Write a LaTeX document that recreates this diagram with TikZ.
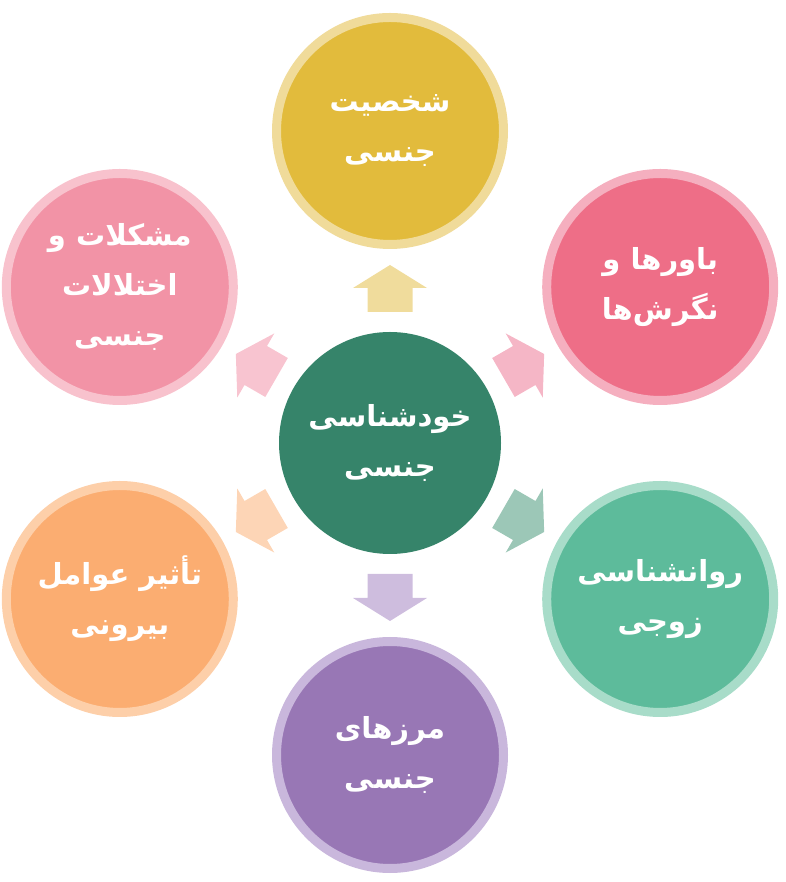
\documentclass[tikz,border=0pt]{standalone}
\usepackage{fontspec}
\newfontfamily\arabicfont[Script=Arabic]{DejaVu Sans}
\TeXXeTstate=1
\usetikzlibrary{calc}

\definecolor{coregreen}{HTML}{36846A}
\definecolor{goldfill}{HTML}{E2BB3C}
\definecolor{goldring}{HTML}{F0DB9A}
\definecolor{rosefill}{HTML}{EE6E87}
\definecolor{rosering}{HTML}{F5AFBF}
\definecolor{pinkfill}{HTML}{F293A6}
\definecolor{pinkring}{HTML}{F8C2CD}
\definecolor{mintfill}{HTML}{5DBB9B}
\definecolor{mintring}{HTML}{A8DCC9}
\definecolor{peachfill}{HTML}{FBAD71}
\definecolor{peachring}{HTML}{FDCFA9}
\definecolor{lilacfill}{HTML}{9877B5}
\definecolor{lilacring}{HTML}{C9B7DC}
\definecolor{goldarrow}{HTML}{F0DC9C}
\definecolor{rosearrow}{HTML}{F5B6C6}
\definecolor{pinkarrow}{HTML}{F8C4D0}
\definecolor{mintarrow}{HTML}{9CC7B7}
\definecolor{peacharrow}{HTML}{FDD5B6}
\definecolor{lilacarrow}{HTML}{CEBDDE}

\tikzset{
  bubble/.style={circle, minimum size=227pt, line width=9pt, inner sep=0pt,
    text=white, align=center, font=\arabicfont\bfseries\fontsize{29}{50}\selectfont}
}
\newcommand{\rtl}[1]{\beginR #1\endR}
\newcommand{\bubble}[5]{\node[bubble, fill=#3, draw=#4] (#1) at ($(core)+(#2:312pt)$) {#5};}
\newcommand{\blockarrow}[2]{\fill[#2, shift={(core)}, rotate=#1] (131,-22.5) -- (155,-22.5) -- (155,-37) -- (178,0) -- (155,37) -- (155,22.5) -- (131,22.5) -- cycle;}

\begin{document}
\begin{tikzpicture}[x=1pt,y=1pt]
        \useasboundingbox (0,0) rectangle (785,882);

        % centre
        \node[bubble, fill=coregreen, draw=none, minimum size=222pt] (core) at (390,439)
            {\rtl{خودشناسی}\\\rtl{جنسی}};

        % ring of topics
        \bubble{persona}{90}{goldfill}{goldring}{\rtl{شخصیت}\\\rtl{جنسی}}
        \bubble{beliefs}{30}{rosefill}{rosering}{\rtl{باورها و}\\\rtl{نگرش‌ها}}
        \bubble{couple}{-30}{mintfill}{mintring}{\rtl{روانشناسی}\\\rtl{زوجی}}
        \bubble{bounds}{-90}{lilacfill}{lilacring}{\rtl{مرزهای}\\\rtl{جنسی}}
        \bubble{outside}{210}{peachfill}{peachring}{\rtl{تأثیر عوامل}\\\rtl{بیرونی}}
        \bubble{problems}{150}{pinkfill}{pinkring}{\rtl{مشکلات و}\\\rtl{اختلالات}\\\rtl{جنسی}}

        % arrows
        \blockarrow{90}{goldarrow}
        \blockarrow{30}{rosearrow}
        \blockarrow{-30}{mintarrow}
        \blockarrow{-90}{lilacarrow}
        \blockarrow{210}{peacharrow}
        \blockarrow{150}{pinkarrow}

    \end{tikzpicture}
\end{document}
